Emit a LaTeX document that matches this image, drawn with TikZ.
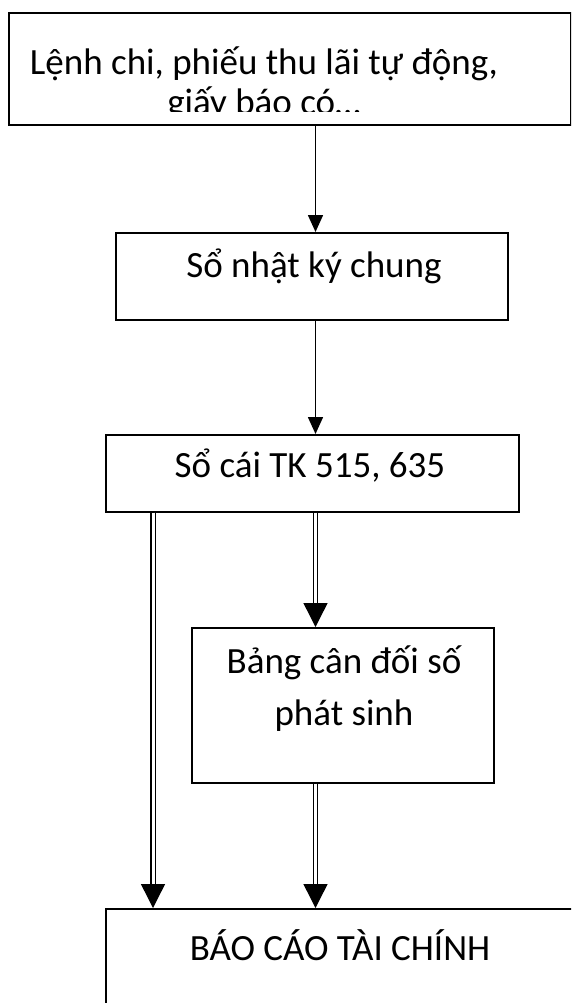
\documentclass[tikz,border=0pt]{standalone}
\usepackage{fontspec}
\setmainfont{Carlito}
\usetikzlibrary{arrows.meta}
\begin{document}
\begin{tikzpicture}[x=1pt,y=-1pt,
  boxframe/.style={draw, line width=1.6pt, inner sep=0pt, anchor=north west},
  boxtext/.style={anchor=base, align=center, inner sep=0pt,
    font=\fontsize{37}{48}\selectfont},
  flow/.style={line width=1.6pt, -{Triangle[length=17pt,width=15pt]}},
  dflow/.style={line width=1.4pt, double, double distance=3pt,
    -{Triangle[length=24pt,width=24pt]}}]
\useasboundingbox (0,0) rectangle (571,1003);
\clip (0,0) rectangle (571,1003);

% boxes
\node[boxframe, minimum width=562pt, minimum height=112pt] (b1) at (8,12) {};
\node[boxframe, minimum width=392pt, minimum height=87pt]  (b2) at (115,232) {};
\node[boxframe, minimum width=413pt, minimum height=77pt]  (b3) at (105,434) {};
\node[boxframe, minimum width=302pt, minimum height=155pt] (b4) at (191,627) {};
\node[boxframe, minimum width=470pt, minimum height=110pt] (b5) at (105,908) {};

% labels (base anchor sits on the last line of a two-line label)
\begin{scope}
  \clip (0,0) rectangle (571,112);
  \node[boxtext, font=\fontsize{37}{40}\selectfont] (t1) at (264,115)
    {Lệnh chi, phiếu thu lãi tự động,\\giấy báo có…};
\end{scope}
\node[boxtext] (t2) at (314,277) {Sổ nhật ký chung};
\node[boxtext] (t3) at (310,477) {Sổ cái TK 515, 635};
\node[boxtext, font=\fontsize{37}{52}\selectfont] (t4) at (344,725) {Bảng cân đối số\\phát sinh};
\node[boxtext] (t5) at (340,960) {BÁO CÁO TÀI CHÍNH};

% connector columns
\coordinate (cl) at (153,0);
\coordinate (cm) at (315.5,0);

\draw[flow]  (cm |- b1.south) -- (cm |- b2.north);
\draw[flow]  (cm |- b2.south) -- (cm |- b3.north);
\draw[dflow] (cl |- b3.south) -- (cl |- b5.north);
\draw[dflow] (cm |- b3.south) -- (cm |- b4.north);
\draw[dflow] (cm |- b4.south) -- (cm |- b5.north);
\end{tikzpicture}
\end{document}
